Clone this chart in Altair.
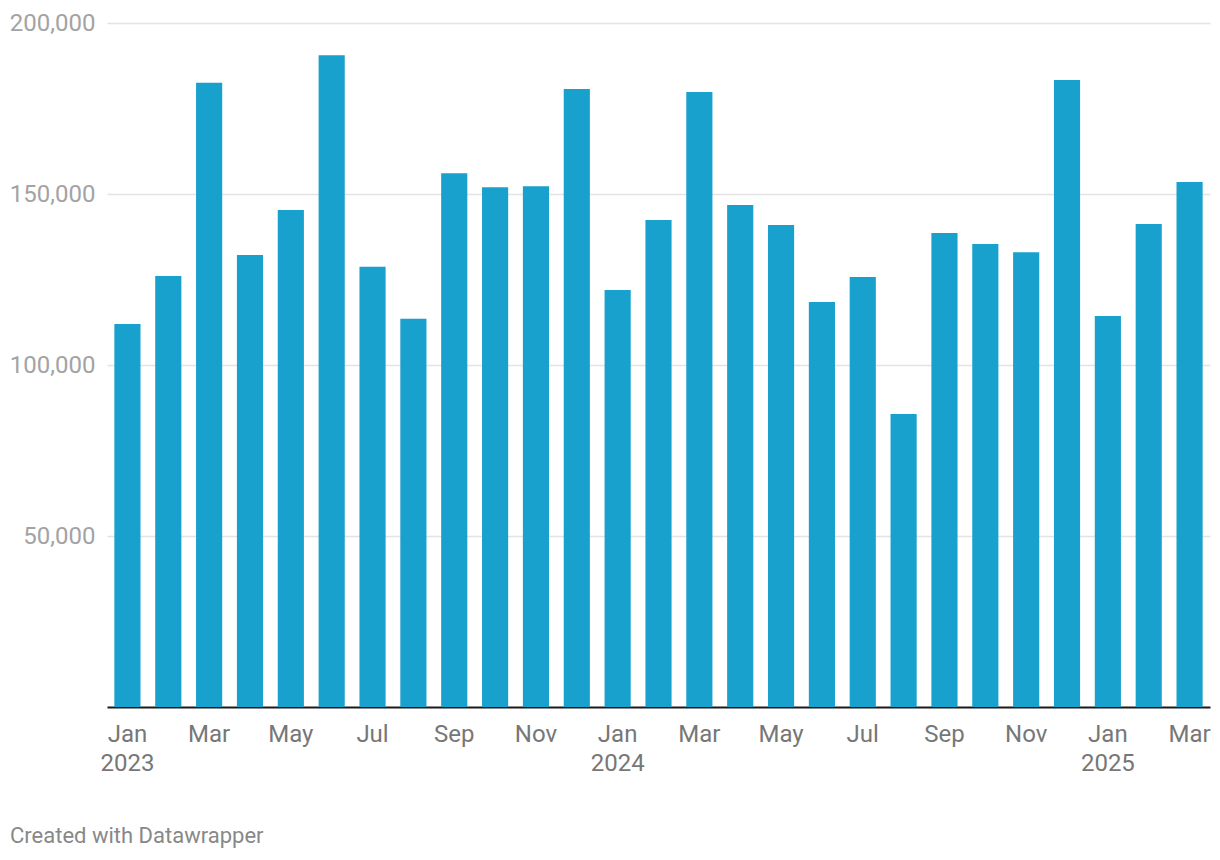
import altair as alt
import pandas as pd

months = ["Jan", "Feb", "Mar", "Apr", "May", "Jun", "Jul", "Aug", "Sep", "Oct", "Nov", "Dec"]
periods = [f"{m} {y}" for y in (2023, 2024) for m in months] + ["Jan 2025", "Feb 2025", "Mar 2025"]
values = [
    112000, 126000, 182500, 132200, 145300, 190600, 128700, 113500, 156100, 152000, 152300, 180700,
    121900, 142400, 179800, 146800, 140900, 118400, 125700, 85700, 138600, 135400, 133000, 183300,
    114300, 141200, 153500,
]
footer = ["Created with Datawrapper"]

df = pd.DataFrame({"period": periods, "value": values})

label_expr = (
    "indexof(['Jan','Mar','May','Jul','Sep','Nov'], split(datum.label,' ')[0]) >= 0 ? "
    "(split(datum.label,' ')[0] == 'Jan' ? split(datum.label,' ') : split(datum.label,' ')[0]) : ''"
)

bars = alt.Chart(df).mark_bar(color="#18a1cd").encode(
    x=alt.X(
        "period:N",
        sort=periods,
        scale=alt.Scale(paddingInner=0.36, paddingOuter=0.18),
        axis=alt.Axis(
            title=None,
            labelExpr=label_expr,
            labelAngle=0,
            labelFont="Roboto",
            labelFontSize=24,
            labelColor="#777777",
            labelPadding=15,
            labelLineHeight=29,
            labelOverlap=False,
            labelBound=False,
            ticks=False,
            domain=True,
            domainColor="#1a1a1a",
            domainWidth=2,
            grid=False,
        ),
    ),
    y=alt.Y(
        "value:Q",
        scale=alt.Scale(domain=[0, 200000], nice=False),
        axis=alt.Axis(
            title=None,
            values=[50000, 100000, 150000, 200000],
            format=",d",
            labelFont="Roboto",
            labelFontSize=24,
            labelColor="#a3a3a3",
            labelPadding=12,
            ticks=False,
            domain=False,
            grid=True,
            gridColor="#e3e3e3",
            gridWidth=1.5,
        ),
    ),
)

foot = alt.Chart(pd.DataFrame({"t": footer})).mark_text(
    align="left", baseline="middle", font="Roboto", fontSize=22, color="#888888"
).encode(text="t:N", x=alt.value(-97), y=alt.value(813))

chart = alt.layer(bars, foot).properties(
    width=1103,
    height=684,
    padding={"left": 99, "top": 15, "right": 2, "bottom": 145},
    autosize=alt.AutoSizeParams(type="none"),
).configure_view(stroke=None)

chart.save("out.html", embed_options={"renderer": "svg", "actions": False})
